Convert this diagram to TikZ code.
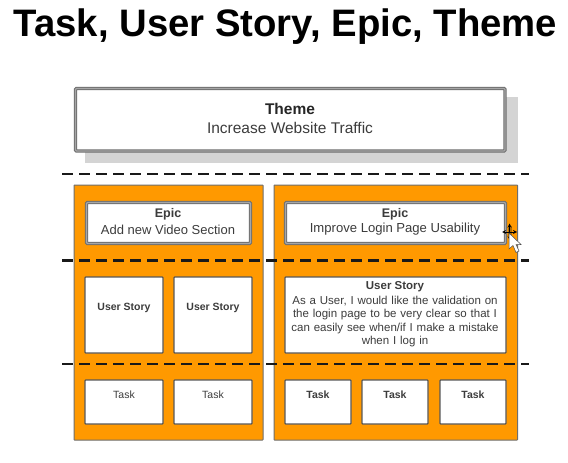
\documentclass[tikz,border=0pt]{standalone}
\usepackage{fontspec}
\setmainfont{Liberation Sans}
\definecolor{panelor}{HTML}{FF9900}
\definecolor{edgegr}{HTML}{6E6E6E}
\definecolor{shadowgr}{HTML}{D4D4D4}
\definecolor{txtgr}{HTML}{3C3C3C}
\newcommand{\fs}[1]{\fontsize{#1}{#1}\selectfont}
\tikzset{
 panel/.style={draw=edgegr,line width=1pt,fill=panelor,rounded corners=0.5pt},
 whitebox/.style={draw=edgegr!80!black,line width=1.3pt,fill=white,rounded corners=0.8pt},
 dblbox/.style={draw=edgegr,line width=1pt,double=black!35,double distance=1.2pt,rounded corners=1pt},
 sep/.style={draw=black!90,line width=2.8pt,dash pattern=on 11pt off 6pt},
 lab/.style={align=center,text=txtgr,inner sep=0pt,font=\fs{11}},
 lablg/.style={align=center,text=txtgr,inner sep=0pt,font=\fs{15.5}}
}
\begin{document}
\begin{tikzpicture}[x=1pt,y=-1pt]
\useasboundingbox (0,0) rectangle (568,463);
\fill[white] (0,0) rectangle (568,463);
\node[inner sep=0pt,font=\bfseries\fs{38.3}] (title) at (285.5,27) {Task, User Story, Epic, Theme};
% theme
\fill[shadowgr] (85,97) rectangle (518,163);
\fill[white] (75,88) rectangle (505.5,151.5);
\draw[dblbox] (75.5,88.5) rectangle (505,151);
\node[lablg,text=black!85] (themet) at (290,109) {\bfseries Theme};
\node[lablg] (themes) at (290,128) {Increase Website Traffic};
% panels
\draw[panel] (74,185) rectangle (263,440);
\draw[panel] (274,185) rectangle (517.5,440);
% epics
\fill[white] (86.5,202.5) rectangle (250.5,243.5);
\draw[dblbox] (86.5,202.5) rectangle (250.5,243.5);
\node[lab,font=\bfseries\fs{12.5}] (e1t) at (168,214) {Epic};
\node[lab,font=\fs{13}] (e1s) at (168,229.5) {Add new Video Section};
\fill[white] (285.5,202.5) rectangle (505.5,243.5);
\draw[dblbox] (285.5,202.5) rectangle (505.5,243.5);
\node[lab,font=\bfseries\fs{12.5}] (e2t) at (395,214) {Epic};
\node[lab,font=\fs{13.1}] (e2s) at (395,229.5) {Improve Login Page Usability};
% user stories
\node[whitebox,minimum width=78pt,minimum height=76pt,inner sep=0pt] (us1) at (124,315) {};
\node[whitebox,minimum width=78pt,minimum height=76pt,inner sep=0pt] (us2) at (213,315) {};
\node[lab,font=\bfseries\fs{10.5}] (us1t) at (124,308) {User Story};
\node[lab,font=\bfseries\fs{10.5}] (us2t) at (213,308) {User Story};
\draw[whitebox] (285,277) rectangle (506,353);
\node[lab,font=\bfseries\fs{11.5}] (us3t) at (395,287) {User Story};
\node[lab,font=\fs{11.5},align=center,text width=215pt] (us3s) at (395,321.5) {As a User, I would like the validation on\\[1.7pt]the login page to be very clear so that I\\[1.7pt]can easily see when/if I make a mistake\\[1.7pt]when I log in};
% tasks
\draw[whitebox] (85,380) rectangle (163,424);
\draw[whitebox] (174,380) rectangle (252,424);
\node[lab,font=\fs{10.5}] (t1) at (124,394.5) {Task};
\node[lab,font=\fs{10.5}] (t2) at (213,394.5) {Task};
\draw[whitebox] (285,380) rectangle (351,424);
\draw[whitebox] (362,380) rectangle (428,424);
\draw[whitebox] (440,380) rectangle (506,424);
\node[lab,font=\bfseries\fs{10.5}] (t3) at (318,394.5) {Task};
\node[lab,font=\bfseries\fs{10.5}] (t4) at (395,394.5) {Task};
\node[lab,font=\bfseries\fs{10.5}] (t5) at (473,394.5) {Task};
% separators
\coordinate (s1a) at (62,174); \coordinate (s1b) at (529,174);
\coordinate (s2a) at (62,260.5); \coordinate (s2b) at (529,260.5);
\coordinate (s3a) at (62,364); \coordinate (s3b) at (529,364);
\draw[sep] (s1a) -- (s1b);
\draw[sep] (s2a) -- (s2b);
\draw[sep] (s3a) -- (s3b);
% cursor
\fill[panelor!70!black] (508,226) rectangle (512,236);
\draw[black,line width=0.8pt,<->,>=stealth] (502,232) -- (517,232);
\draw[black,line width=0.8pt,<->,>=stealth] (509.5,223.5) -- (509.5,240);
\draw[fill=white,draw=black!70,line width=0.5pt] (509,233) -- (509,249) -- (513,245.5) -- (516,252.5) -- (519,251) -- (516,244.5) -- (521,244.5) -- cycle;
\end{tikzpicture}
\end{document}
